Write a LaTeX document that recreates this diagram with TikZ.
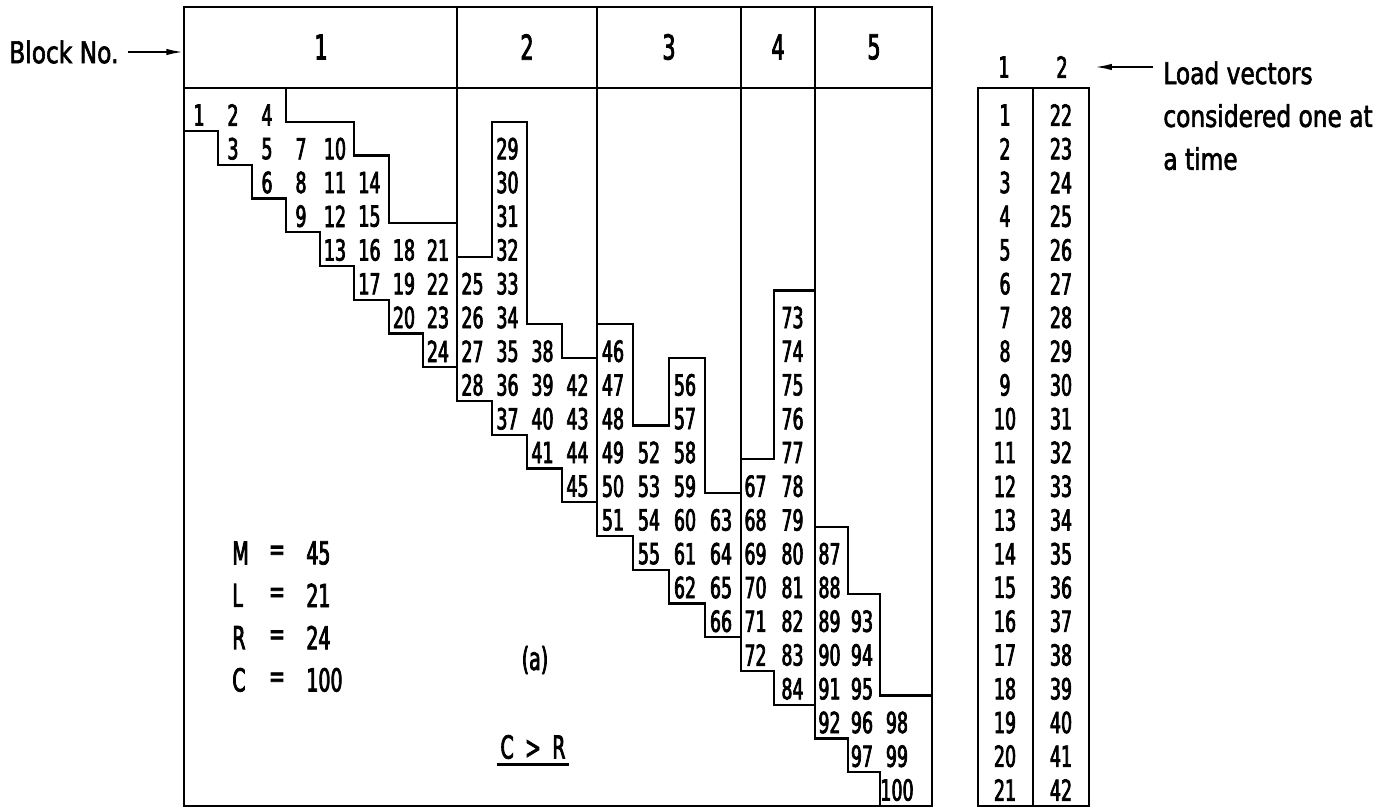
\documentclass[tikz,border=0pt]{standalone}
\usepackage{fontspec}
\setmainfont{DejaVu Sans}[FakeStretch=0.78, FakeBold=2]
\newfontfamily\digitfont{DejaVu Sans}[FakeStretch=0.6, FakeBold=2.5]
\usetikzlibrary{arrows.meta}
\tikzset{
  frameline/.style={line width=1.2pt},
  stair/.style={line width=1.3pt, line join=miter},
  divider/.style={line width=0.9pt},
  num/.style={font=\digitfont\fontsize{16.5}{16}\selectfont, inner sep=0pt},
  hdr/.style={font=\digitfont\fontsize{19.5}{20}\selectfont, inner sep=0pt},
  lbl/.style={font=\fontsize{17}{24.4}\selectfont, inner sep=0pt},
  param/.style={font=\digitfont\fontsize{18}{18}\selectfont, inner sep=0pt},
  arr/.style={line width=1.2pt, -{Latex[length=10pt,width=3.6pt]}}
}
\begin{document}
\begin{tikzpicture}[x=0.02cm, y=-0.02cm]
\useasboundingbox (0,0) rectangle (1392,810);

% ---- main frame and header ----
\draw[frameline] (184,7) rectangle (932,806);
\draw[line width=1.4pt] (184,88) -- (932,88);
\draw[divider] (457,7) -- (457,367.25);
\draw[divider] (597,7) -- (597,502.25);
\draw[divider] (741,7) -- (741,637.25);
\draw[divider] (815,7) -- (815,704.75);

\node[hdr] (h1) at (321,47) {1};
\node[hdr] (h2) at (527,47) {2};
\node[hdr] (h3) at (669,47) {3};
\node[hdr] (h4) at (778,47) {4};
\node[hdr] (h5) at (874,47) {5};

% ---- Block No. label ----
\node[lbl, anchor=west] (blockno) at (9,52) {Block No.};
\coordinate (boxL) at (184,52);
\draw[arr, shorten <=5pt] (blockno.east) -- (boxL);

% ---- skyline (top) staircase ----
\draw[stair] (286,88) -- (286,121.75) -- (354,121.75) -- (354,155.5) -- (389,155.5)
  -- (389,223) -- (457,223) -- (457,256.75) -- (492,256.75) -- (492,121.75)
  -- (527,121.75) -- (527,324.25) -- (562,324.25) -- (562,358) -- (597,358)
  -- (597,324.25) -- (633,324.25) -- (633,425.5) -- (669,425.5) -- (669,358)
  -- (705,358) -- (705,493) -- (741,493) -- (741,459.25) -- (774,459.25)
  -- (774,290.5) -- (815,290.5) -- (815,526.75) -- (848,526.75) -- (848,594.25)
  -- (880,594.25) -- (880,695.5) -- (932,695.5);

% ---- diagonal (bottom) staircase ----
\draw[stair] (184,131) -- (218,131) -- (218,164.75) -- (252,164.75) -- (252,198.5)
  -- (286,198.5) -- (286,232.25) -- (320,232.25) -- (320,266) -- (354,266)
  -- (354,299.75) -- (389,299.75) -- (389,333.5) -- (423,333.5) -- (423,367.25)
  -- (457,367.25) -- (457,401) -- (492,401) -- (492,434.75) -- (527,434.75)
  -- (527,468.5) -- (562,468.5) -- (562,502.25) -- (597,502.25) -- (597,536)
  -- (633,536) -- (633,569.75) -- (669,569.75) -- (669,603.5) -- (705,603.5)
  -- (705,637.25) -- (741,637.25) -- (741,671) -- (774,671) -- (774,704.75)
  -- (815,704.75) -- (815,738.5) -- (848,738.5) -- (848,772.25) -- (880,772.25)
  -- (880,806);

% ---- stored coefficients ----
\def\TC{{0,199,233,267,301,335,369.5,404,438,472.5,507.5,542.5,577.5,613,649,685,721,755.5,792.5,829.5,862,897}}
\def\FR{{0,1,1,1,2,2,3,5,5,6,2,8,9,8,11,9,13,12,7,14,16,19}}
\def\SN{{0,1,2,4,7,10,14,18,21,25,29,38,42,46,52,56,63,67,73,87,93,98}}
\foreach \j in {1,...,21}{
  \pgfmathtruncatemacro\f{\FR[\j]}
  \pgfmathtruncatemacro\s{\SN[\j]}
  \pgfmathsetmacro\tx{\TC[\j]}
  \foreach \r in {\f,...,\j}{
    \pgfmathtruncatemacro\n{\s+\r-\f}
    \pgfmathsetmacro\ty{115+33.75*(\r-1)}
    \node[num] (n\n) at (\tx,\ty) {\n};
  }
}

% ---- parameters ----
\foreach \l/\v [count=\i from 0] in {M/45,L/21,R/24,C/100}{
  \pgfmathsetmacro\py{553+42.3*\i}
  \node[param, anchor=west] (var\l) at (232,\py) {\l};
  \node[param] (eq\l) at (277,\py) {=};
  \node[param, anchor=west] (val\l) at (306,\py) {\v};
}
\node[param] (lbla) at (535,660) {(a)};
\node[param] (cr) at (533,747) {C\, >\, R};
\draw[line width=1.4pt] ([xshift=-2pt,yshift=-3pt]cr.south west) -- ([xshift=2pt,yshift=-3pt]cr.south east);

% ---- load vector table ----
\draw[frameline] (978,88) rectangle (1089,806);
\draw[divider] (1033,88) -- (1033,806);
\node[num] (lv1) at (1004,67) {1};
\node[num] (lv2) at (1062,67) {2};
\foreach \r in {1,...,21}{
  \pgfmathsetmacro\ty{115+33.75*(\r-1)}
  \pgfmathtruncatemacro\rr{\r+21}
  \node[num] (a\r) at (1005,\ty) {\r};
  \node[num] (b\rr) at (1061,\ty) {\rr};
}
\node[lbl, anchor=north west, align=left] (loadtxt) at (1163,61) {Load vectors\\considered one at\\a time};
\draw[arr, shorten <=5.5pt, shorten >=15pt] (loadtxt.west |- lv2) -- (lv2.east);
\end{tikzpicture}
\end{document}
